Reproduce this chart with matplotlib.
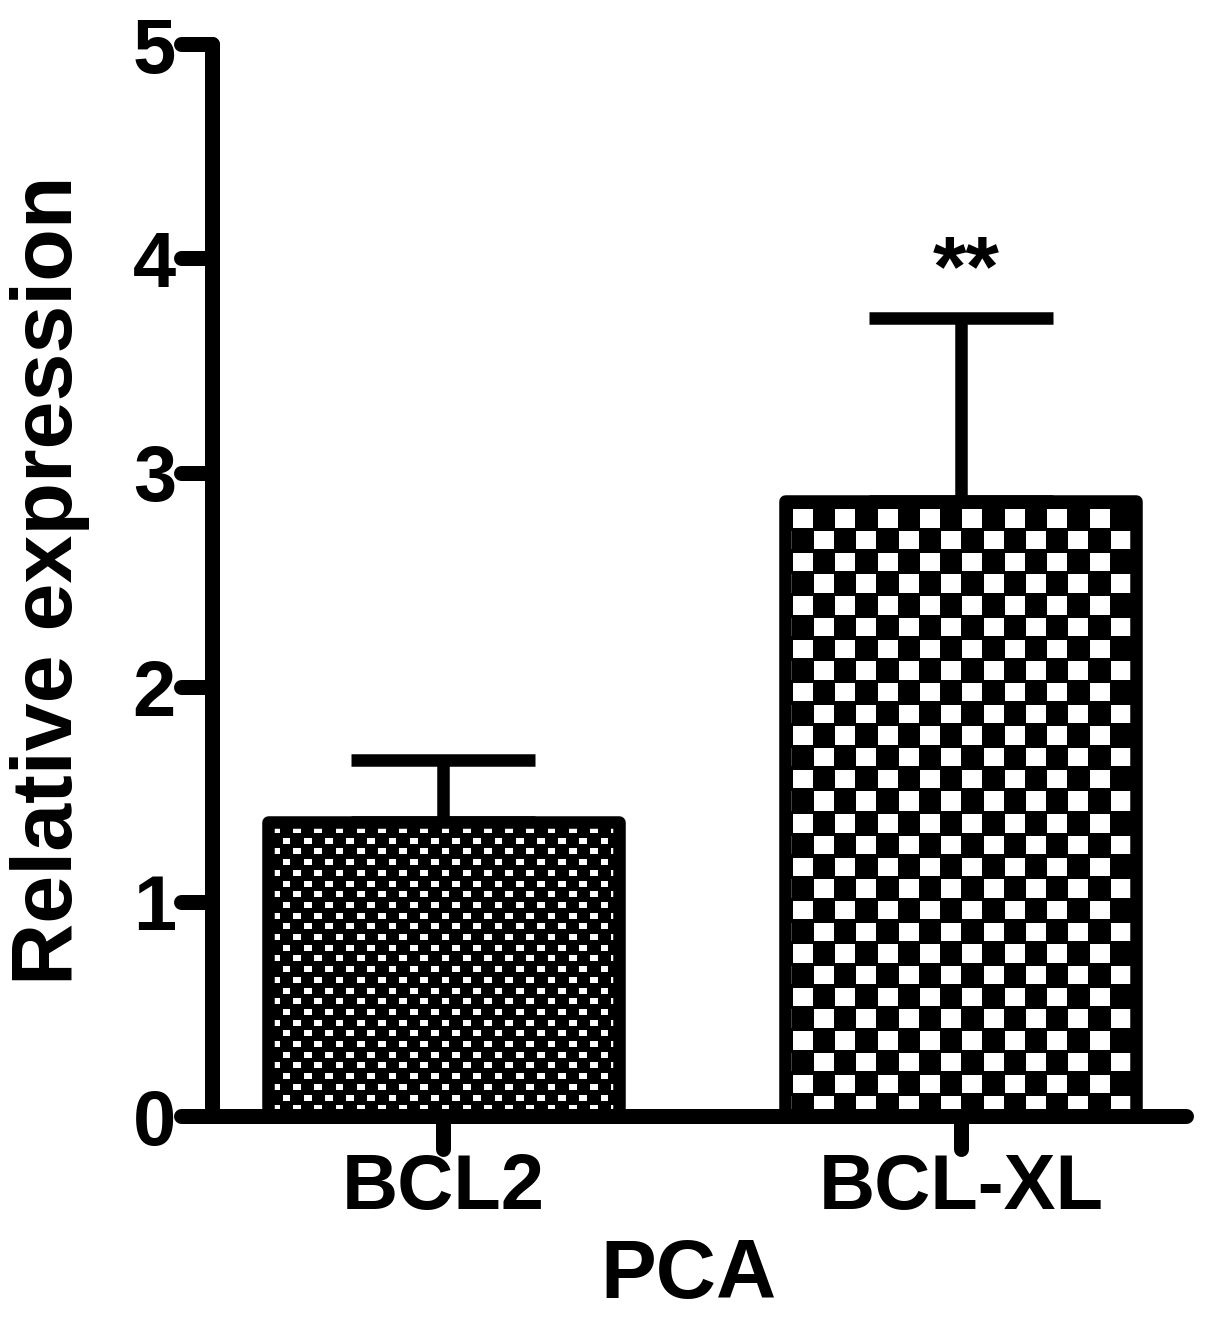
import numpy as np
import matplotlib
matplotlib.use("Agg")
import matplotlib.pyplot as plt
from matplotlib.markers import MarkerStyle, TICKLEFT, TICKDOWN

categories = ["BCL2", "BCL-XL"]
values = [1.37, 2.87]
errors = [0.29, 0.85]
signif = ["", "**"]
yticks = [0, 1, 2, 3, 4, 5]
xlabel = "PCA"
ylabel = "Relative expression"

plt.rcParams['font.family'] = ['Liberation Sans', 'DejaVu Sans']
plt.rcParams['font.weight'] = 'bold'

fig = plt.figure(figsize=(12.05, 13.3), dpi=100)
ax = fig.add_axes([0.1759, 0.1609, 0.9842 - 0.1759, 0.9669 - 0.1609])

x = np.arange(len(categories))
width = 0.678
ax.set_xlim(-0.447, 1.435)
ax.set_ylim(0, 5)

lw_bar = 9.0
bars = ax.bar(x, values, width=width, color='black', edgecolor='none', zorder=2)

# error bars (upper only)
ax.errorbar(x, values, yerr=[np.zeros(len(values)), errors], fmt='none',
            ecolor='black', elinewidth=9.0, capsize=66, capthick=9.0, zorder=1.5)

fig.canvas.draw()

# checker pattern fills
cells = [(10.6, 10.7, 0.75, 0.56, 8.0, 8.0), (21.2, 21.7, 0.94, 0.85, 14.0, 14.0)]
for b, (cx, cy, fx, fy, ox, oy) in zip(bars, cells):
    x0, y0 = b.get_x(), b.get_y()
    x1, y1 = x0 + b.get_width(), y0 + b.get_height()
    (px0, py0), (px1, py1) = ax.transData.transform([(x0, y0), (x1, y1)])
    W = int(round(abs(px1 - px0)))
    H = int(round(abs(py1 - py0)))
    yy, xx = np.mgrid[0:H, 0:W] + 0.5
    xs = (xx + ox) / cx
    ys = (yy + oy) / cy
    ci = np.floor(xs).astype(int)
    cj = np.floor(ys).astype(int)
    frx = xs - ci
    fry = ys - cj
    white = ((ci + cj) % 2 == 0) & (np.abs(frx - 0.5) < fx / 2) & (np.abs(fry - 0.5) < fy / 2)
    img = white.astype(float)
    im = ax.imshow(img, cmap='gray', vmin=0, vmax=1, extent=(x0, x1, y0, y1),
                   origin='upper', interpolation='nearest', aspect='auto', zorder=2.2)
    im.set_clip_path(b)

# outlines
ax.bar(x, values, width=width, facecolor='none', edgecolor='black',
       linewidth=lw_bar, joinstyle='round', zorder=3)

for xi, v, e, s in zip(x, values, errors, signif):
    if s:
        ax.text(xi + 0.01, v + e + 0.11, s, ha='center', va='baseline',
                fontsize=62, fontweight='bold')

ax.set_xticks(x)
ax.set_xticklabels(categories)
ax.set_yticks(yticks)
ax.set_yticklabels([str(t) for t in yticks])

for sp in ['top', 'right']:
    ax.spines[sp].set_visible(False)
for sp in ['left', 'bottom']:
    ax.spines[sp].set_linewidth(10.8)
    ax.spines[sp].set_capstyle('round')

ax.tick_params(axis='y', direction='out', length=22, width=10.8, labelsize=56, pad=4)
ax.tick_params(axis='x', direction='out', length=24, width=10.8, labelsize=56, pad=2)
for t in ax.yaxis.get_major_ticks():
    t.tick1line.set_marker(MarkerStyle(TICKLEFT, capstyle='round'))
for t in ax.xaxis.get_major_ticks():
    t.tick1line.set_marker(MarkerStyle(TICKDOWN, capstyle='round'))
for lab in ax.get_xticklabels() + ax.get_yticklabels():
    lab.set_fontweight('bold')

ax.set_xlabel(xlabel, fontsize=60, fontweight='bold')
ax.set_ylabel(ylabel, fontsize=62, fontweight='bold')
ax.xaxis.set_label_coords(0.489, -0.113)
ax.yaxis.set_label_coords(-0.125, 0.5)

fig.savefig('out.png', dpi=100)
